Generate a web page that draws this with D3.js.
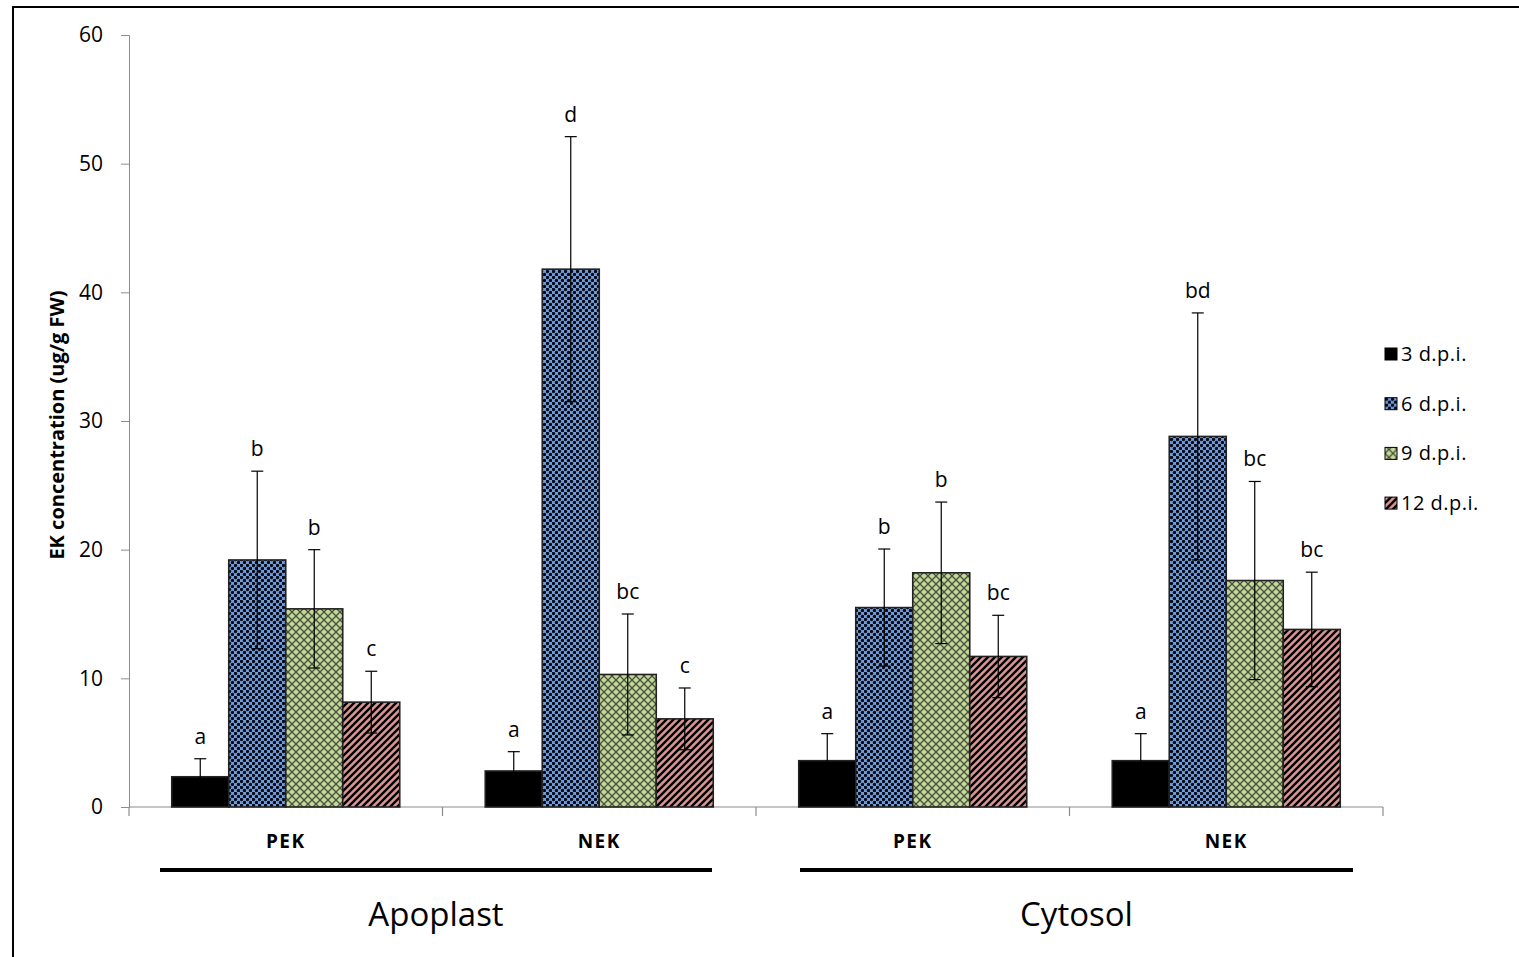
<!DOCTYPE html>
<html>
<head>
<meta charset="utf-8">
<script src="https://cdn.jsdelivr.net/npm/d3@7"></script>
<style>
  body { margin: 0; background: #fff; }
  text { font-family: "Open Sans", sans-serif; fill: #000; }
</style>
</head>
<body>
<div id="chart"></div>
<script>
// data
var groups = ["Apoplast", "Cytosol"];
var categories = ["PEK", "NEK", "PEK", "NEK"];
var series = ["3 d.p.i.", "6 d.p.i.", "9 d.p.i.", "12 d.p.i."];

var dpi3 = [2.35, 2.8, 3.6, 3.6];
var dpi6 = [19.2, 41.8, 15.5, 28.8];
var dpi9 = [15.4, 10.3, 18.2, 17.6];
var dpi12 = [8.15, 6.85, 11.7, 13.8];

var err3 = [1.4, 1.5, 2.1, 2.1];
var err6 = [6.9, 10.3, 4.55, 9.6];
var err9 = [4.6, 4.7, 5.5, 7.7];
var err12 = [2.4, 2.4, 3.2, 4.45];

var let3 = ["a", "a", "a", "a"];
var let6 = ["b", "d", "b", "bd"];
var let9 = ["b", "bc", "b", "bc"];
var let12 = ["c", "c", "bc", "bc"];

var yTicks = [0, 10, 20, 30, 40, 50, 60];

var values = [dpi3, dpi6, dpi9, dpi12];
var errors = [err3, err6, err9, err12];
var letters = [let3, let6, let9, let12];

var svgWidth = 1519, svgHeight = 957;
var svg = d3.select("#chart").append("svg")
    .attr("width", svgWidth)
    .attr("height", svgHeight);

// patterns
var defs = svg.append("defs");

var p6 = defs.append("pattern").attr("id", "pat6")
    .attr("patternUnits", "userSpaceOnUse").attr("width", 6).attr("height", 6);
p6.append("rect").attr("width", 6).attr("height", 6).attr("fill", "#6f9ee0");
p6.append("circle").attr("cx", 1.5).attr("cy", 1.5).attr("r", 1.7).attr("fill", "#0a0a14");
p6.append("circle").attr("cx", 4.5).attr("cy", 4.5).attr("r", 1.7).attr("fill", "#0a0a14");

var p9 = defs.append("pattern").attr("id", "pat9")
    .attr("patternUnits", "userSpaceOnUse").attr("width", 8).attr("height", 8);
p9.append("rect").attr("width", 8).attr("height", 8).attr("fill", "#c4d79b");
p9.append("path").attr("d", "M0,0L8,8M8,0L0,8")
    .attr("stroke", "#46503a").attr("stroke-width", 1.3);

var p12 = defs.append("pattern").attr("id", "pat12")
    .attr("patternUnits", "userSpaceOnUse").attr("width", 7).attr("height", 7);
p12.append("rect").attr("width", 7).attr("height", 7).attr("fill", "#d99594");
p12.append("path").attr("d", "M-1,8L8,-1M-1,1L1,-1M6,8L8,6")
    .attr("stroke", "#000").attr("stroke-width", 2.4);

var fills = ["#000", "url(#pat6)", "url(#pat9)", "url(#pat12)"];

// outer frame (runs off right and bottom)
svg.append("rect")
    .attr("x", 13).attr("y", 7)
    .attr("width", 1530).attr("height", 980)
    .attr("fill", "none").attr("stroke", "#000").attr("stroke-width", 2);

// scales
var yScale = d3.scaleLinear().domain([0, 60]).range([807, 35]);
var catIds = categories.map(function(c, i) { return i; });
var x0 = d3.scaleBand().domain(catIds).range([129, 1383]).paddingInner(0).paddingOuter(0);
var x1 = d3.scaleBand().domain(d3.range(series.length))
    .range([0, x0.bandwidth()]).paddingInner(0).paddingOuter(0.75);

// y axis
var leftAxis = d3.axisLeft(yScale).tickValues(yTicks).tickSize(8).tickPadding(18);
var yAxisG = svg.append("g").attr("transform", "translate(129,0)").call(leftAxis);
yAxisG.select(".domain").attr("stroke", "#8c8c8c");
yAxisG.selectAll(".tick line").attr("stroke", "#8c8c8c");
yAxisG.selectAll(".tick text").style("font-size", "21px").style("font-family", "'Open Sans', sans-serif");

// x axis baseline with category dividers
svg.append("line")
    .attr("x1", 129).attr("x2", 1383).attr("y1", yScale(0)).attr("y2", yScale(0))
    .attr("stroke", "#8c8c8c").attr("stroke-width", 1.2);
svg.selectAll(".divTick")
    .data(catIds.concat([catIds.length]))
    .enter().append("line")
    .attr("x1", function(i) { return 129 + i * x0.step(); })
    .attr("x2", function(i) { return 129 + i * x0.step(); })
    .attr("y1", yScale(0)).attr("y2", yScale(0) + 9)
    .attr("stroke", "#8c8c8c").attr("stroke-width", 1.2);

// bars
var barData = [];
values.forEach(function(vals, s) {
    vals.forEach(function(v, c) {
        barData.push({ s: s, c: c, v: v, e: errors[s][c], l: letters[s][c] });
    });
});

svg.selectAll(".bar")
    .data(barData)
    .enter().append("rect")
    .attr("class", "bar")
    .attr("x", function(d) { return x0(d.c) + x1(d.s); })
    .attr("y", function(d) { return yScale(d.v); })
    .attr("width", x1.bandwidth())
    .attr("height", function(d) { return yScale(0) - yScale(d.v); })
    .attr("fill", function(d) { return fills[d.s]; })
    .attr("stroke", "#222")
    .attr("stroke-width", 1.6);

// error bars
var eb = svg.selectAll(".err").data(barData).enter().append("g")
    .attr("transform", function(d) { return "translate(" + (x0(d.c) + x1(d.s) + x1.bandwidth() / 2) + ",0)"; });
eb.append("line")
    .attr("y1", function(d) { return yScale(d.v - d.e); })
    .attr("y2", function(d) { return yScale(d.v + d.e); })
    .attr("stroke", "#000").attr("stroke-width", 1.2);
eb.append("line")
    .attr("x1", -6).attr("x2", 6)
    .attr("y1", function(d) { return yScale(d.v + d.e); })
    .attr("y2", function(d) { return yScale(d.v + d.e); })
    .attr("stroke", "#000").attr("stroke-width", 1.2);
eb.append("line")
    .attr("x1", -6).attr("x2", 6)
    .attr("y1", function(d) { return yScale(d.v - d.e); })
    .attr("y2", function(d) { return yScale(d.v - d.e); })
    .attr("stroke", "#000").attr("stroke-width", 1.2);
eb.append("text")
    .attr("y", function(d) { return yScale(d.v + d.e) - 15; })
    .attr("text-anchor", "middle")
    .style("font-size", "21px")
    .text(function(d) { return d.l; });

// category labels
svg.selectAll(".catLabel")
    .data(categories)
    .enter().append("text")
    .attr("x", function(d, i) { return x0(i) + x0.bandwidth() / 2; })
    .attr("y", 848)
    .attr("text-anchor", "middle")
    .style("font-size", "19px")
    .style("font-weight", "bold")
    .style("letter-spacing", "1.5px")
    .text(function(d) { return d; });

// group underline + label
var grpSpan = groups.map(function(g, i) {
    return { name: g, x1: x0(i * 2) + 31, x2: x0(i * 2 + 1) + x0.bandwidth() - 44 };
});
grpSpan[1].x1 = x0(2) + 44;
grpSpan[1].x2 = x0(3) + x0.bandwidth() - 30;

svg.selectAll(".grpLine").data(grpSpan).enter().append("line")
    .attr("x1", function(d) { return d.x1; })
    .attr("x2", function(d) { return d.x2; })
    .attr("y1", 870).attr("y2", 870)
    .attr("stroke", "#000").attr("stroke-width", 4);

svg.selectAll(".grpLabel").data(grpSpan).enter().append("text")
    .attr("x", function(d) { return (d.x1 + d.x2) / 2; })
    .attr("y", 926)
    .attr("text-anchor", "middle")
    .style("font-size", "33px")
    .text(function(d) { return d.name; });

// y axis title
svg.append("text")
    .attr("transform", "translate(64,425) rotate(-90)")
    .attr("text-anchor", "middle")
    .style("font-size", "20px")
    .style("font-weight", "bold")
    .text("EK concentration (ug/g FW)");

// legend
var legend = svg.selectAll(".legend").data(series).enter().append("g")
    .attr("transform", function(d, i) { return "translate(1385," + (354 + i * 49.7) + ")"; });
legend.append("rect")
    .attr("x", 0).attr("y", -6).attr("width", 12).attr("height", 12)
    .attr("fill", function(d, i) { return fills[i]; })
    .attr("stroke", "#000").attr("stroke-width", 1);
legend.append("text")
    .attr("x", 16).attr("y", 7)
    .style("font-size", "20px")
    .style("letter-spacing", "0.5px")
    .text(function(d) { return d; });
</script>
</body>
</html>
